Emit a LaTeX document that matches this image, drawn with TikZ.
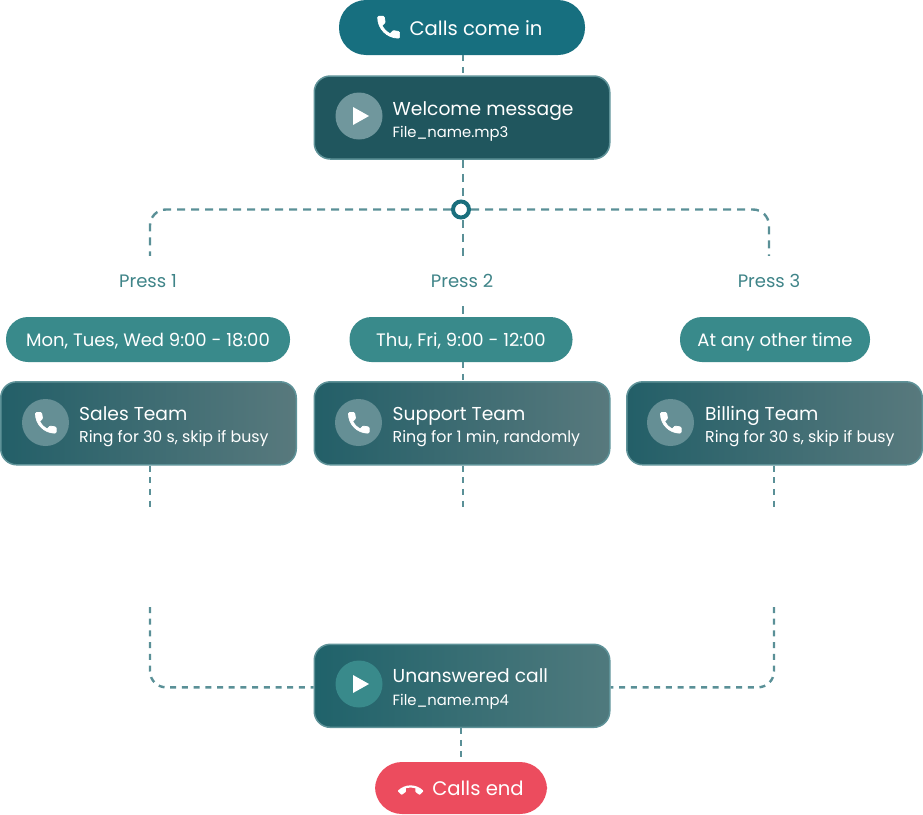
\documentclass[tikz,border=0pt]{standalone}
\usepackage{fontspec}
\setmainfont{Poppins}
\usetikzlibrary{arrows.meta,positioning}
\definecolor{linecol}{HTML}{5A9097}
\definecolor{ringcol}{HTML}{1A6F7D}
\definecolor{startcol}{HTML}{176F7F}
\definecolor{pillcol}{HTML}{398A8B}
\definecolor{endcol}{HTML}{EC4C5E}
\definecolor{cardleft}{HTML}{235F68}
\definecolor{cardright}{HTML}{58797D}
\definecolor{cardline}{HTML}{5E9298}
\definecolor{labelcol}{HTML}{3F8488}
\tikzset{
    phoneicon/.pic={
        \path[fill=white, draw=white, line width=.7pt, line join=round] (6.62,10.79) .. controls (8.06,13.62) and (10.38,15.93) .. (13.21,17.38) -- (15.41,15.18)
            .. controls (15.68,14.91) and (16.08,14.82) .. (16.43,14.94)
            .. controls (17.55,15.31) and (18.76,15.51) .. (20,15.51)
            .. controls (20.55,15.51) and (21,15.96) .. (21,16.51) -- (21,20)
            .. controls (21,20.55) and (20.55,21) .. (20,21)
            .. controls (10.61,21) and (3,13.39) .. (3,4)
            .. controls (3,3.45) and (3.45,3) .. (4,3) -- (7.5,3)
            .. controls (8.05,3) and (8.5,3.45) .. (8.5,4)
            .. controls (8.5,5.25) and (8.7,6.45) .. (9.07,7.57)
            .. controls (9.18,7.92) and (9.10,8.31) .. (8.82,8.59) -- cycle;
    },
    hangicon/.pic={
        \fill[white] (12,9) .. controls (10.4,9) and (8.85,9.25) .. (7.4,9.72) -- (7.4,12.82)
            .. controls (7.4,13.21) and (7.17,13.56) .. (6.84,13.72)
            .. controls (5.86,14.21) and (4.97,14.84) .. (4.18,15.57) -- (3.48,15.85) -- (2.77,15.56)
            -- (0.29,13.08) -- (0,12.38) -- (0.29,11.67)
            .. controls (3.34,8.78) and (7.46,7) .. (12,7)
            .. controls (16.54,7) and (20.66,8.78) .. (23.71,11.67)
            -- (24,12.38) -- (23.71,13.08) -- (21.23,15.56) -- (20.52,15.85) -- (19.82,15.57)
            .. controls (19.03,14.84) and (18.14,14.21) .. (17.16,13.72)
            .. controls (16.83,13.56) and (16.6,13.21) .. (16.6,12.82) -- (16.6,9.72)
            .. controls (15.15,9.25) and (13.6,9) .. (12,9) -- cycle;
    }
}
\begin{document}
\begin{tikzpicture}[x=1pt, y=-1pt,
        pill/.style={rounded corners=22pt, text=white, align=center, minimum height=45pt, inner sep=0pt, text height=16pt, text depth=2pt, font=\fontsize{18}{22}\selectfont},
        bigpill/.style={pill, rounded corners=27pt, text height=17pt, font=\fontsize{19.6}{24}\selectfont},
        card/.style={draw=cardline, line width=1.5pt, rounded corners=16pt, left color=cardleft, right color=cardright, minimum width=295.5pt, minimum height=83pt, inner sep=0pt},
        cardtitle/.style={text=white, inner sep=0pt, anchor=base west, font=\fontsize{18.7}{22}\selectfont},
        cardsub/.style={text=white, inner sep=0pt, anchor=base west, font=\fontsize{15.8}{20}\selectfont},
        filesub/.style={cardsub, font=\fontsize{14.8}{20}\selectfont},
        disc/.style={circle, minimum size=47pt, inner sep=0pt, fill=#1},
        press/.style={text=labelcol, minimum height=50pt, inner sep=0pt, yshift=-1pt, font=\fontsize{18}{22}\selectfont},
        link/.style={draw=linecol, line width=2.4pt, dash pattern=on 8pt off 6pt},
        dotlink/.style={draw=linecol, line width=2.4pt, dash pattern=on 6pt off 5.7pt}
    ]
    \useasboundingbox (0,0) rectangle (923,814);
    \node[circle, draw=ringcol, line width=4pt, fill=white, minimum size=16pt, inner sep=0pt] (ring) at (461,209.5) {};
    \node[press] (press1) at (148,280) {Press 1};
    \node[press] (press2) at (462,280) {Press 2};
    \node[press] (press3) at (769,280) {Press 3};

    \node[bigpill, fill=startcol, minimum width=246pt, minimum height=55pt] (start) at (462,27.5) {\hspace*{28pt}Calls come in};
    \node[card, left color=cardleft!90!black, right color=cardleft!90!black] (welcome) at (462,117.5) {};
    \node[pill, fill=pillcol, minimum width=284pt] (when1) at (148,339.5) {Mon, Tues, Wed 9:00 - 18:00};
    \node[pill, fill=pillcol, minimum width=223pt] (when2) at (461,339.5) {Thu, Fri, 9:00 - 12:00};
    \node[pill, fill=pillcol, minimum width=190pt] (when3) at (775,339.5) {At any other time};
    \node[card] (sales) at (148.5,423.3) {};
    \node[card] (support) at (462,423.3) {};
    \node[card] (billing) at (774.5,423.3) {};
    \node[card, left color=cardleft!90!teal, right color=cardright!90!teal] (missed) at (462,685.8) {};
    \node[bigpill, fill=endcol, minimum width=172pt, minimum height=52pt] (stop) at (461,788) {\hspace*{34pt}Calls end};

    % card texts
    \node[cardtitle] (welcometitle) at ([xshift=79pt,yshift=2.5pt]welcome.west) {Welcome message};
    \node[filesub] (welcomesub) at ([yshift=-22pt]welcometitle.base west) {File\_name.mp3};
    \node[cardtitle] (salestitle) at ([xshift=79pt,yshift=3pt]sales.west) {Sales Team};
    \node[cardsub] (salessub) at ([yshift=-22.5pt]salestitle.base west) {Ring for 30 s, skip if busy};
    \node[cardtitle] (supporttitle) at ([xshift=79pt,yshift=3pt]support.west) {Support Team};
    \node[cardsub] (supportsub) at ([yshift=-22.5pt]supporttitle.base west) {Ring for 1 min, randomly};
    \node[cardtitle] (billingtitle) at ([xshift=79pt,yshift=3pt]billing.west) {Billing Team};
    \node[cardsub] (billingsub) at ([yshift=-22.5pt]billingtitle.base west) {Ring for 30 s, skip if busy};
    \node[cardtitle] (missedtitle) at ([xshift=79pt,yshift=3pt]missed.west) {Unanswered call};
    \node[filesub] (missedsub) at ([yshift=-23pt]missedtitle.base west) {File\_name.mp4};

    \node[disc=white!35!cardleft] (disc0) at (359,116) {};
    \node[disc=white!30!cardleft] (disc1) at (45.5,422.5) {};
    \node[disc=white!30!cardleft] (disc2) at (358.5,422.5) {};
    \node[disc=white!30!cardleft] (disc3) at (670.5,422.5) {};
    \node[disc=pillcol] (disc4) at (359,684) {};
    \fill[white] (353,107) -- (369,116) -- (353,125) -- cycle;
    \fill[white] (353,675) -- (369,684) -- (353,693) -- cycle;
    \pic[scale=1.22] at (374,12.5) {phoneicon};
    \pic[scale=1.15] at (32,409) {phoneicon};
    \pic[scale=1.15] at (345,409) {phoneicon};
    \pic[scale=1.15] at (657,409) {phoneicon};
    \pic[scale=1.05] at (398,778) {hangicon};

    \coordinate (out1) at (150,507);
    \coordinate (out2) at (463,507);
    \coordinate (out3) at (774,507);
    \coordinate (in1) at (150,607);
    \coordinate (in3) at (774,607);
    \draw[dotlink] (start.south -| 463,0) -- (welcome.north -| 463,0);
    \draw[link] (welcome.south -| 463,0) -- (ring.north -| 463,0);
    \draw[link, rounded corners=16pt] (ring.west) -| (press1.north -| 150,0);
    \draw[link, rounded corners=16pt] (ring.east) -| (press3.north);
    \draw[link] (ring.south -| 463,0) -- (press2.north -| 463,0);
    \draw[link] (press2.south -| 463,0) -- (when2.north -| 463,0);
    \draw[dotlink] (when2.south -| 463,0) -- (support.north -| 463,0);
    \draw[dotlink] (sales.south -| out1) -- (out1);
    \draw[dotlink] (support.south -| out2) -- (out2);
    \draw[dotlink] (billing.south -| out3) -- (out3);
    \draw[dotlink, rounded corners=16pt] (in1) |- ([yshift=-1.5pt]missed.west);
    \draw[dotlink, rounded corners=16pt] (in3) |- ([yshift=-1.5pt]missed.east);
    \draw[dotlink] (missed.south -| stop) -- (stop.north);
    \end{tikzpicture}
\end{document}
